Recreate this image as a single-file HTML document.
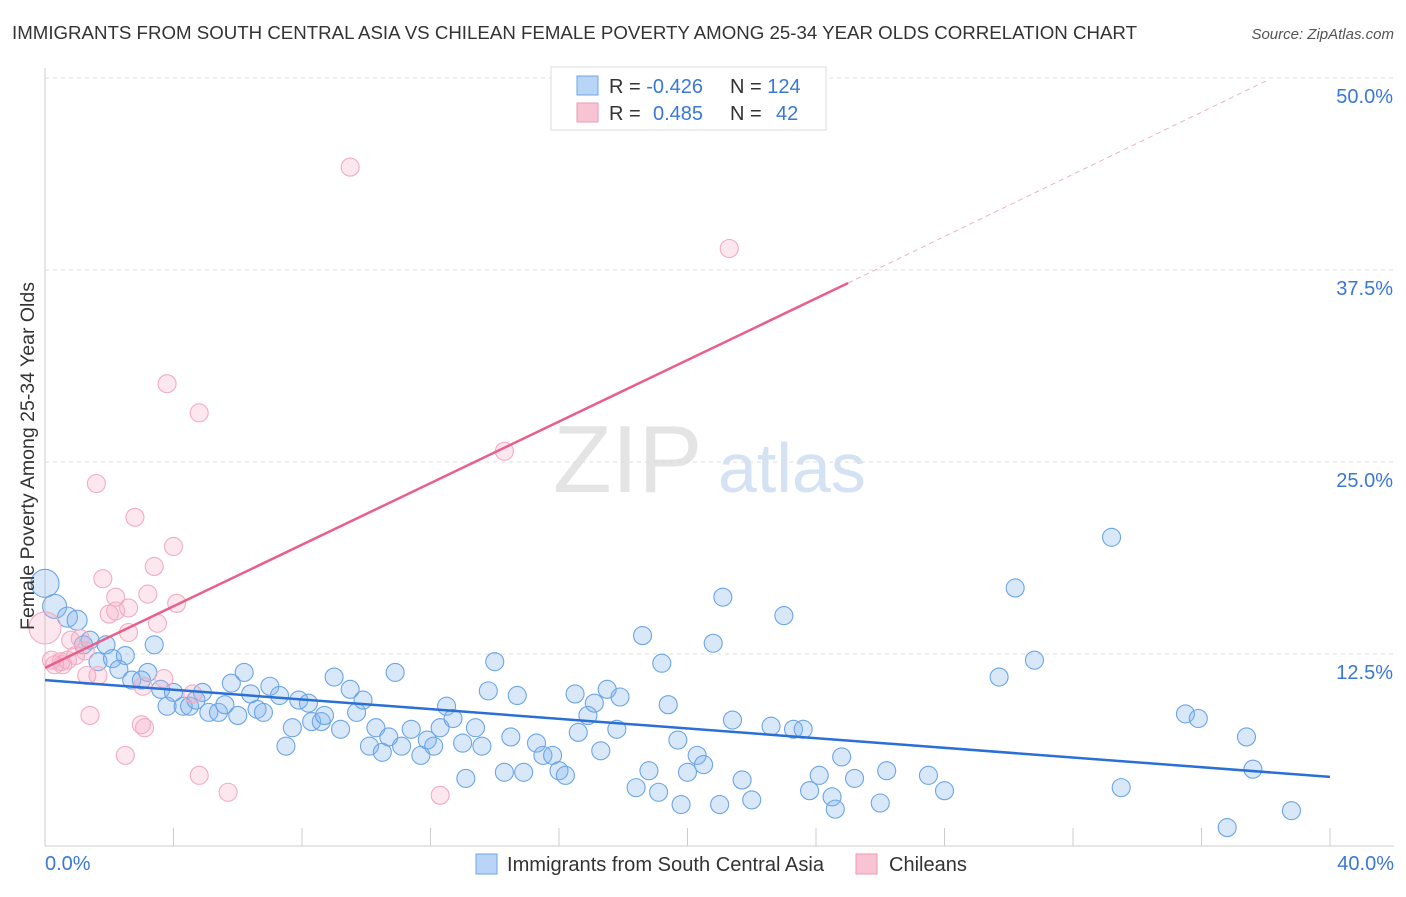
<!DOCTYPE html>
<html><head><meta charset="utf-8"><style>
body{margin:0;background:#fff;font-family:"Liberation Sans",sans-serif}
svg text{font-family:"Liberation Sans",sans-serif}
</style></head><body>
<svg id="c" width="1406" height="892" xmlns="http://www.w3.org/2000/svg">
<text x="12" y="39" font-size="18" fill="#333" textLength="1125" lengthAdjust="spacingAndGlyphs">IMMIGRANTS FROM SOUTH CENTRAL ASIA VS CHILEAN FEMALE POVERTY AMONG 25-34 YEAR OLDS CORRELATION CHART</text>
<text x="1394" y="39" font-size="15" fill="#555" font-style="italic" text-anchor="end">Source: ZipAtlas.com</text>
<g>
<text x="553" y="492" font-size="96" font-family="Liberation Serif" fill="#e4e4e4">ZIP</text>
<text x="718" y="492" font-size="70" fill="#d4e2f4">atlas</text>
</g>
<g id="grid"></g><g id="axes"></g><g id="pts"></g><g id="lines"></g>
<text transform="translate(34,456) rotate(-90)" font-size="19.5" fill="#333" text-anchor="middle">Female Poverty Among 25-34 Year Olds</text>
<text x="45" y="870" font-size="20" fill="#3a78d4">0.0%</text>
<text x="1394" y="870" font-size="20" fill="#3a78d4" text-anchor="end">40.0%</text>
<g>
<rect x="551" y="67" width="275" height="63" fill="#fff" stroke="#ddd"/>
<rect x="577" y="76" width="21" height="19" fill="#b8d4f6" stroke="#6fa4e4"/>
<rect x="577" y="103" width="21" height="19" fill="#f8c4d4" stroke="#ee9ab6"/>
<text x="609" y="93" font-size="20" fill="#333">R = <tspan fill="#3a78d4">-0.426</tspan></text>
<text x="730" y="93" font-size="20" fill="#333">N = <tspan fill="#3a78d4">124</tspan></text>
<text x="609" y="120" font-size="20" fill="#333">R = <tspan fill="#3a78d4" x="653">0.485</tspan></text>
<text x="730" y="120" font-size="20" fill="#333">N = <tspan fill="#3a78d4" x="776">42</tspan></text>
</g>
<g>
<rect x="476" y="854" width="21" height="20" fill="#b8d4f6" stroke="#6fa4e4"/>
<text x="507" y="871" font-size="20" fill="#333" textLength="317" lengthAdjust="spacingAndGlyphs">Immigrants from South Central Asia</text>
<rect x="856" y="854" width="21" height="20" fill="#f8c4d4" stroke="#ee9ab6"/>
<text x="889" y="871" font-size="20" fill="#333">Chileans</text>
</g>
</svg>
<script>
const yTicks=[12.5,25,37.5,50];
const yTickLabels=["12.5%","25.0%","37.5%","50.0%"];
const blueX=[0,0.3,0.7,1.0,1.4,1.2,1.9,1.65,2.1,2.5,2.3,3.4,3.2,2.7,3.0,3.6,3.8,4.0,4.3,4.5,4.7,4.9,5.1,5.4,5.6,5.8,6.0,6.2,6.4,6.6,6.8,7.0,7.3,7.5,7.7,7.9,8.2,8.3,8.6,8.7,9.0,9.2,9.5,9.7,9.9,10.1,10.3,10.5,10.7,10.9,11.1,11.4,11.7,11.9,12.1,12.3,12.5,12.7,13.0,13.1,13.4,13.6,13.8,14.0,14.3,14.5,14.7,14.9,15.3,15.5,15.8,16.0,16.2,16.5,16.6,16.9,17.1,17.3,17.5,17.8,17.9,18.4,18.6,18.8,19.1,19.2,19.4,19.7,19.8,20.0,20.3,20.5,20.8,21.0,21.1,21.4,21.7,22.0,22.6,23.0,23.3,23.6,23.8,24.1,24.5,24.6,24.8,25.2,26.0,26.2,27.5,28.0,29.7,30.2,30.8,33.2,33.5,35.5,35.9,36.8,37.4,37.6,38.8];
const blueY=[17.1,15.6,14.9,14.7,13.4,13.1,13.1,12.0,12.2,12.4,11.5,13.1,11.3,10.8,10.8,10.2,9.1,10.0,9.1,9.1,9.5,10.0,8.7,8.7,9.2,10.6,8.5,11.3,9.9,8.9,8.7,10.4,9.8,6.5,7.7,9.5,9.3,8.1,8.1,8.5,11.0,7.6,10.2,8.7,9.5,6.5,7.7,6.1,7.1,11.3,6.5,7.6,5.9,6.9,6.5,7.7,9.1,8.3,6.7,4.4,7.7,6.5,10.1,12.0,4.8,7.1,9.8,4.8,6.7,5.9,5.9,4.9,4.6,9.9,7.4,8.5,9.3,6.2,10.2,7.6,9.7,3.8,13.7,4.9,3.5,11.9,9.2,6.9,2.7,4.8,5.9,5.3,13.2,2.7,16.2,8.2,4.3,3.0,7.8,15.0,7.6,7.6,3.6,4.6,3.2,2.4,5.8,4.4,2.8,4.9,4.6,3.6,11.0,16.8,12.1,20.1,3.8,8.6,8.3,1.2,7.1,5.0,2.3];
const blueR=[14,12,10,10,9,9,9,9,9,9,9];
const pinkX=[0,0.2,0.5,0.7,0.8,1.1,1.3,1.65,1.4,1.6,1.8,2.0,2.2,2.2,2.6,2.6,2.5,2.8,3.0,3.1,3.05,3.2,3.4,3.5,3.7,3.8,4.0,4.1,4.6,4.8,4.8,5.7,9.5,12.3,14.3,21.3,0.3,0.55,0.95,1.25];
const pinkY=[14.2,12.1,12.0,12.1,13.4,13.5,11.1,11.1,8.5,23.6,17.4,15.1,16.2,15.3,15.5,13.9,5.9,21.4,7.9,7.7,10.4,16.4,18.2,14.5,10.9,30.1,19.5,15.8,9.9,28.2,4.6,3.5,44.2,3.3,25.7,38.9,11.8,11.8,12.4,12.7];
const blueTrend=[[0,10.8],[40,4.5]];
const pinkTrendSolid=[[0,11.6],[25,36.65]];
const pinkTrendDash=[[25,36.65],[38.1,49.9]];
const X0=45,X1=1330,Y0=846,PPY=192/12.5;
const xs=v=>X0+(v/40)*(X1-X0), ys=v=>Y0-v*PPY;
const NS="http://www.w3.org/2000/svg";
function mk(tag,attrs,parent){const e=document.createElementNS(NS,tag);for(const k in attrs)e.setAttribute(k,attrs[k]);document.getElementById(parent).appendChild(e);return e;}
yTicks.forEach((t,i)=>{
 const g=mk('line',{x1:45,x2:1394,y1:ys(t),y2:ys(t),stroke:'#ddd','stroke-dasharray':'4,4'},'grid');
 
 
 const tx=mk('text',{x:1393,y:ys(t)+25,'font-size':20,fill:'#3a78d4','text-anchor':'end'},'grid');
 tx.textContent=yTickLabels[i];
 
 
});
const ax=mk('line',{x1:45,x2:45,y1:68,y2:846,stroke:'#ccc'},'axes');


const bx=mk('line',{x1:45,x2:1394,y1:846,y2:846,stroke:'#ccc'},'axes');


for(let v=4;v<=40;v+=4){
 const tk=mk('line',{x1:xs(v),x2:xs(v),y1:828,y2:846,stroke:'#ccc'},'axes');
 
 
}
blueX.forEach((x,i)=>{
 const c=mk('circle',{cx:xs(x),cy:ys(blueY[i]),r:blueR[i]||9,fill:'rgba(130,178,235,0.3)',stroke:'#6aa5e6','stroke-width':1.1},'pts');
 
 
});
pinkX.forEach((x,i)=>{
 const c=mk('circle',{cx:xs(x),cy:ys(pinkY[i]),r:i==0?16:9,fill:'rgba(244,170,195,0.28)',stroke:'#f2abc3','stroke-width':1.1},'pts');
 
 
});
function ln(d,col,w,dash,name){
 const l=mk('line',{x1:xs(d[0][0]),y1:ys(d[0][1]),x2:xs(d[1][0]),y2:ys(d[1][1]),stroke:col,'stroke-width':w},'lines');
 if(dash)l.setAttribute('stroke-dasharray',dash);
 
 
}
ln(blueTrend,'#2a6fd6',2.5,null,'trend-south-central-asia');
ln(pinkTrendSolid,'#e8608a',2.5,null,'trend-chileans');
ln(pinkTrendDash,'#f0b0c4',1,'5,4','trend-chileans-extension');
</script>
</body></html>
